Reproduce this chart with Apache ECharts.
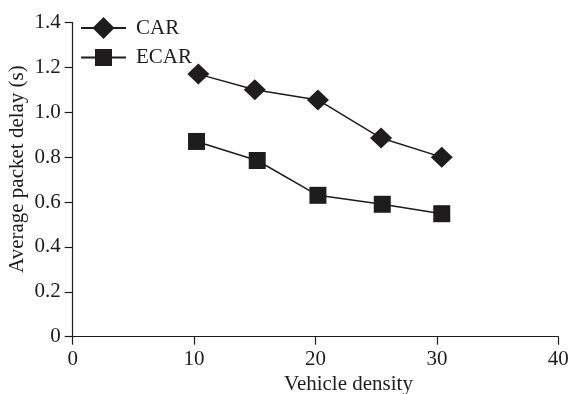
<!DOCTYPE html>
<html>
<head>
<meta charset="utf-8">
<script src="https://cdn.jsdelivr.net/npm/echarts@6/dist/echarts.min.js"></script>
<style>
html,body{margin:0;padding:0;background:#fff;}
#chart{width:573px;height:394px;}
</style>
</head>
<body>
<div id="chart"></div>
<script>
var seriesNames = ['CAR', 'ECAR'];
var carX = [10.35, 15.0, 20.2, 25.4, 30.4];
var carY = [1.17, 1.10, 1.055, 0.885, 0.80];
var ecarX = [10.2, 15.2, 20.2, 25.5, 30.4];
var ecarY = [0.87, 0.785, 0.63, 0.59, 0.548];
var xTicks = [0, 10, 20, 30, 40];
var yTicks = [0, 0.2, 0.4, 0.6, 0.8, 1.0, 1.2, 1.4];
var xTitle = 'Vehicle density';
var yTitle = 'Average packet delay (s)';

function pairs(xs, ys) {
  return xs.map(function (x, i) { return [x, ys[i]]; });
}

var ink = '#1e1c1d';
var font = '"Liberation Serif", "Times New Roman", serif';
var fs = 21;

var chart = echarts.init(document.getElementById('chart'), null, {renderer: 'canvas'});
chart.setOption({
  animation: false,
  backgroundColor: '#fff',
  textStyle: {fontFamily: font, color: ink},
  grid: {left: 72.7, right: 14.7, top: 22.5, bottom: 57.3, containLabel: false, outerBoundsMode: 'none'},
  legend: [
    {
      data: [seriesNames[0]], orient: 'vertical', left: 80, top: 17, padding: 0,
      itemWidth: 45, itemHeight: 27.5,
      textStyle: {fontFamily: font, fontSize: fs, color: ink, padding: [0, 0, 0, 5]}
    },
    {
      data: [seriesNames[1]], orient: 'vertical', left: 80, top: 47, padding: 0,
      itemWidth: 45, itemHeight: 21.25,
      textStyle: {fontFamily: font, fontSize: fs, color: ink, padding: [0, 0, 0, 5]}
    }
  ],
  xAxis: {
    type: 'value', min: xTicks[0], max: xTicks[xTicks.length - 1], interval: 10,
    name: xTitle, nameLocation: 'middle', nameGap: 37, nameMoveOverlap: false,
    nameTextStyle: {fontFamily: font, fontSize: fs, color: ink, padding: [0, 0, 0, 66]},
    axisLine: {show: true, onZero: false, lineStyle: {color: ink, width: 1.2}},
    axisTick: {show: true, inside: false, length: 8, lineStyle: {color: ink, width: 1.2}},
    axisLabel: {margin: 12, fontFamily: font, fontSize: fs, color: ink},
    splitLine: {show: false}
  },
  yAxis: {
    type: 'value', min: yTicks[0], max: yTicks[yTicks.length - 1], interval: 0.2,
    name: yTitle, nameLocation: 'middle', nameGap: 45, nameRotate: 90, nameMoveOverlap: false,
    nameTextStyle: {fontFamily: font, fontSize: fs, color: ink, padding: [0, 0, 0, 21]},
    axisLine: {show: true, onZero: false, lineStyle: {color: ink, width: 1.2}},
    axisTick: {show: true, inside: false, length: 8, lineStyle: {color: ink, width: 1.2}},
    axisLabel: {
      margin: 12, fontFamily: font, fontSize: fs, color: ink,
      formatter: function (v) { return v === 0 ? '0' : v.toFixed(1); }
    },
    splitLine: {show: false}
  },
  series: [
    {
      name: seriesNames[0], type: 'line', data: pairs(carX, carY),
      symbol: 'diamond', symbolSize: [22, 21],
      lineStyle: {color: ink, width: 1.5},
      itemStyle: {color: ink, borderWidth: 0}
    },
    {
      name: seriesNames[1], type: 'line', data: pairs(ecarX, ecarY),
      symbol: 'rect', symbolSize: 17,
      lineStyle: {color: ink, width: 1.5},
      itemStyle: {color: ink, borderWidth: 0}
    }
  ]
});
</script>
</body>
</html>
